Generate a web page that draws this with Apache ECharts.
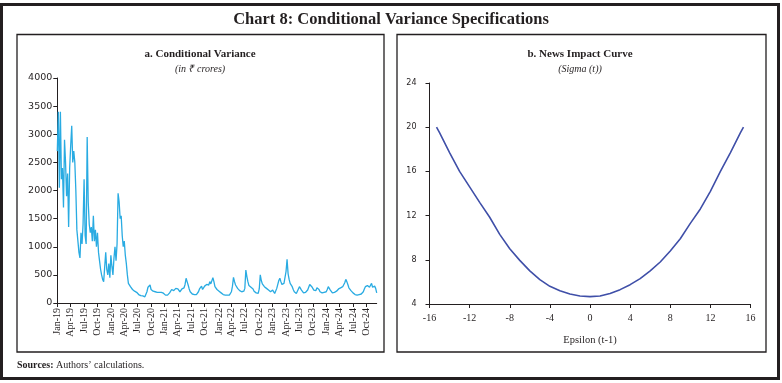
<!DOCTYPE html>
<html><head><meta charset="utf-8">
<script src="https://cdn.jsdelivr.net/npm/echarts/dist/echarts.min.js"></script>
<style>html,body{margin:0;padding:0;background:#fff}#c{width:782px;height:383px}</style>
</head><body><div id="c"></div>
<script>
const chartTitle = 'Chart 8: Conditional Variance Specifications';
const leftTitle = 'a. Conditional Variance';
const leftSub = '(in ₹ crores)';
const rightTitle = 'b. News Impact Curve';
const rightSub = '(Sigma (t))';
const rightXName = 'Epsilon (t-1)';

const quarterLabels = ['Jan-19','Apr-19','Jul-19','Oct-19','Jan-20','Apr-20','Jul-20','Oct-20',
  'Jan-21','Apr-21','Jul-21','Oct-21','Jan-22','Apr-22','Jul-22','Oct-22',
  'Jan-23','Apr-23','Jul-23','Oct-23','Jan-24','Apr-24','Jul-24','Oct-24'];

// weekly conditional variance (₹ crores), first week of Jan 2019 onward
const variance = [
 2700,3400,2050,3400,2200,2400,1700,2900,2500,1900,
 2300,1350,2400,2800,3150,2500,2700,2500,2000,1300,
 1100,900,800,1250,1050,1400,2200,1200,1050,2950,
 1800,1400,1250,1350,1100,1550,1100,1300,1000,1250,
 900,750,600,500,420,380,400,900,600,500,
 700,450,850,650,500,800,1000,750,1050,1950,
 1800,1500,1550,1200,1000,1100,850,700,500,350,
 320,290,260,240,220,210,200,190,170,150,
 140,130,130,125,120,110,130,200,280,300,
 320,240,220,210,230,200,210,190,180,190,
 180,190,170,175,150,140,150,140,160,180,
 210,240,230,220,200,260,290,250,220,200,
 230,250,260,270,330,440,380,320,250,200,
 180,160,150,150,140,150,170,200,250,270,
 300,240,270,300,320,330,350,320,380,340,
 360,450,380,290,260,240,230,210,190,180,
 160,150,140,140,150,140,150,140,160,200,
 300,455,380,320,290,260,240,220,210,200,
 200,210,260,585,470,380,310,290,280,300,
 250,210,200,180,170,170,250,500,400,340,
 320,290,280,260,240,230,220,200,210,230,
 200,170,200,260,330,400,440,380,330,320,
 350,380,560,775,520,420,350,320,290,240,
 200,180,170,200,250,290,260,230,210,180,
 170,190,210,230,280,330,340,290,260,230,
 200,220,270,300,240,200,190,180,180,190,
 180,200,240,290,260,230,200,180,170,190,
 200,210,230,250,260,270,290,290,320,360,
 420,380,330,270,240,220,200,180,160,150,
 140,140,140,150,150,160,170,200,250,290,
 270,310,290,280,310,350,280,250,300,260,180
];

const epsilon = [-15.3,-15,-14,-13,-12,-11,-10,-9,-8,-7,-6,-5,-4,-3,-2,-1,0,1,2,3,4,5,6,7,8,9,10,11,12,13,14,15,15.3];
const sigma   = [20.0,19.5,17.7,16.0,14.6,13.2,11.85,10.3,9.0,7.95,7.0,6.2,5.6,5.2,4.9,4.72,4.67,4.72,4.95,5.3,5.75,6.3,7.0,7.8,8.8,9.9,11.3,12.6,14.2,16.0,17.7,19.5,20.0];

// weekly date categories (Fridays) starting 4 Jan 2019
const categories = [];
for (let i = 0; i < variance.length; i++) {
  const d = new Date(Date.UTC(2019, 0, 4 + 7 * i));
  categories.push(d.toISOString().slice(0, 10));
}
function quarterIndex(val) {
  const d = new Date(val + 'T00:00:00Z');
  const m = d.getUTCMonth();
  if (m % 3 === 0 && d.getUTCDate() <= 7) return (d.getUTCFullYear() - 2019) * 4 + m / 3;
  return -1;
}
const isQ = (idx, val) => quarterIndex(val) >= 0;

const ink = '#231f20';
const serif = 'Liberation Serif';
const sans = 'DejaVu Sans';

const chart = echarts.init(document.getElementById('c'), null, {renderer: 'canvas'});
chart.setOption({
  animation: false,
  backgroundColor: '#fff',
  graphic: [
    {type: 'rect', shape: {x: 1.5, y: 4.5, width: 777, height: 374}, style: {fill: 'none', stroke: ink, lineWidth: 3}},
    {type: 'rect', shape: {x: 17, y: 34.5, width: 367, height: 317.5}, style: {fill: 'none', stroke: ink, lineWidth: 1.3}},
    {type: 'rect', shape: {x: 397, y: 34.5, width: 369, height: 317.5}, style: {fill: 'none', stroke: ink, lineWidth: 1.3}},
    {type: 'text', x: 391, y: 20, style: {text: chartTitle, fill: ink, font: 'bold 16.5px "Liberation Serif"', textAlign: 'center', textVerticalAlign: 'middle'}},
    {type: 'text', x: 200, y: 54, style: {text: leftTitle, fill: ink, font: 'bold 11px "Liberation Serif"', textAlign: 'center', textVerticalAlign: 'middle'}},
    {type: 'text', x: 200, y: 69, style: {text: leftSub, fill: ink, font: 'italic 10px "Liberation Serif"', textAlign: 'center', textVerticalAlign: 'middle'}},
    {type: 'text', x: 580, y: 54, style: {text: rightTitle, fill: ink, font: 'bold 11px "Liberation Serif"', textAlign: 'center', textVerticalAlign: 'middle'}},
    {type: 'text', x: 580, y: 69, style: {text: rightSub, fill: ink, font: 'italic 10px "Liberation Serif"', textAlign: 'center', textVerticalAlign: 'middle'}},
    {type: 'text', x: 17, y: 365, style: {text: '{b|Sources:} Authors’ calculations.', fill: ink, font: '10px "Liberation Serif"', textVerticalAlign: 'middle',
      rich: {b: {fontWeight: 'bold', fontFamily: serif, fontSize: 10, fill: ink}}}}
  ],
  grid: [
    {left: 57.3, top: 78, width: 319.4, height: 225},
    {left: 429.5, top: 83, width: 321, height: 221}
  ],
  xAxis: [
    {type: 'category', gridIndex: 0, data: categories, boundaryGap: false,
     axisLine: {lineStyle: {color: ink, width: 1}},
     axisTick: {show: true, interval: isQ, length: 4, lineStyle: {color: ink}},
     axisLabel: {interval: isQ, rotate: 90, margin: 5, color: ink, fontFamily: serif, fontSize: 10,
       formatter: v => { const k = quarterIndex(v); return k >= 0 ? quarterLabels[k] : ''; }},
     splitLine: {show: false}},
    {type: 'value', gridIndex: 1, min: -16, max: 16, interval: 4,
     axisLine: {onZero: false, lineStyle: {color: ink, width: 1}},
     axisTick: {show: true, length: 4, lineStyle: {color: ink}},
     axisLabel: {color: ink, fontFamily: serif, fontSize: 10, margin: 9},
     splitLine: {show: false},
     name: rightXName, nameLocation: 'middle', nameGap: 31,
     nameTextStyle: {color: ink, fontFamily: serif, fontSize: 10.5}}
  ],
  yAxis: [
    {type: 'value', gridIndex: 0, min: 0, max: 4000, interval: 500,
     axisLine: {show: true, onZero: false, lineStyle: {color: ink, width: 1}},
     axisTick: {show: true, length: 4, lineStyle: {color: ink}},
     axisLabel: {color: ink, fontFamily: sans, fontSize: 9.5, margin: 5, formatter: v => String(v)},
     splitLine: {show: false}},
    {type: 'value', gridIndex: 1, min: 4, max: 24, interval: 4,
     axisLine: {show: true, onZero: false, lineStyle: {color: ink, width: 1}},
     axisTick: {show: true, length: 4, lineStyle: {color: ink}},
     axisLabel: {color: ink, fontFamily: sans, fontSize: 8, margin: 13, formatter: v => String(v)},
     splitLine: {show: false}}
  ],
  series: [
    {type: 'line', xAxisIndex: 0, yAxisIndex: 0, data: variance, showSymbol: false,
     lineStyle: {color: '#29abe2', width: 1.3}, itemStyle: {color: '#29abe2'}},
    {type: 'line', xAxisIndex: 1, yAxisIndex: 1, data: epsilon.map((e, i) => [e, sigma[i]]), showSymbol: false,
     lineStyle: {color: '#3f4fa8', width: 1.6}, itemStyle: {color: '#3f4fa8'}}
  ]
});
</script></body></html>
